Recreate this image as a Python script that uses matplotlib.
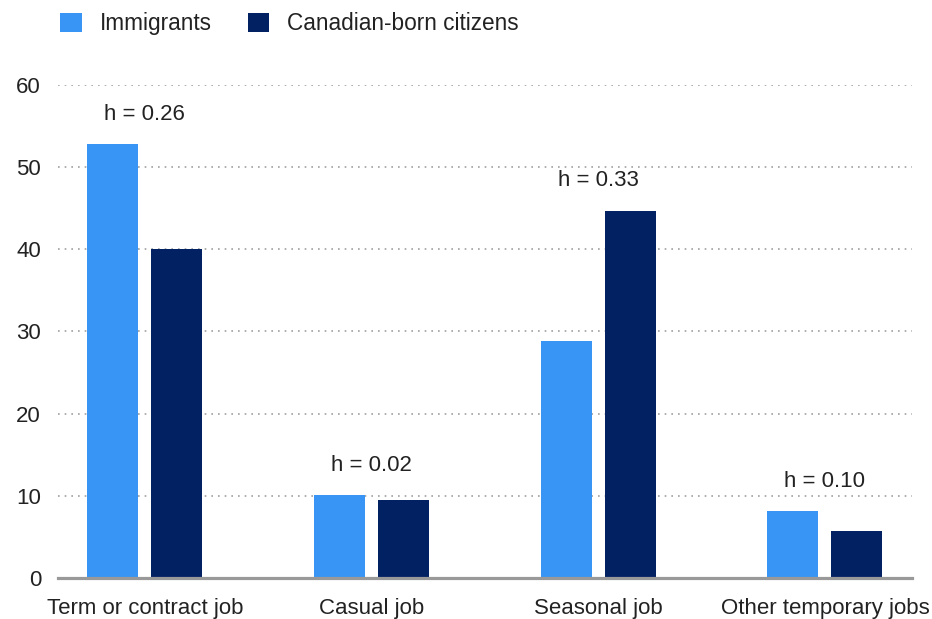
import matplotlib.pyplot as plt
import numpy as np
from matplotlib.patches import Patch

plt.rcParams['font.family'] = ['Liberation Sans', 'DejaVu Sans']

categories = ['Term or contract job', 'Casual job', 'Seasonal job', 'Other temporary jobs']
immigrants = [52.8, 10.1, 28.8, 8.15]
canadian_born = [40.0, 9.5, 44.7, 5.7]
h_labels = ['h = 0.26', 'h = 0.02', 'h = 0.33', 'h = 0.10']
series_names = ['Immigrants', 'Canadian-born citizens']
yticks = [0, 10, 20, 30, 40, 50, 60]

c_imm = '#3895F5'
c_can = '#012163'
txt = '#222222'

fig = plt.figure(figsize=(9.32, 6.19), dpi=100)
ax = fig.add_axes([0.062, 0.066, 0.9165, 0.797])

x = np.arange(len(categories))
w = 0.225
off = 0.141
ax.bar(x - off, immigrants, w, color=c_imm, zorder=3)
ax.bar(x + off, canadian_born, w, color=c_can, zorder=3)

for i, lab in enumerate(h_labels):
    top = max(immigrants[i], canadian_born[i])
    ax.annotate(lab, (x[i], top), xytext=(0, 21.5), textcoords='offset points',
                ha='center', va='center', fontsize=16, color=txt)

ax.set_xlim(-0.384, 3.384)
ax.set_ylim(0, 60)
ax.set_yticks(yticks)
ax.set_xticks(x)
ax.set_xticklabels(categories)
ax.tick_params(axis='both', length=0, labelsize=16, labelcolor=txt)
ax.tick_params(axis='x', pad=14)
ax.tick_params(axis='y', pad=12)

for s in ['top', 'right', 'left', 'bottom']:
    ax.spines[s].set_visible(False)
ax.yaxis.grid(True, linestyle=(0, (1, 3)), color='#a0a0a0', linewidth=1.2, zorder=0)
ax.axhline(0, color='#999999', linewidth=2.3, zorder=4, clip_on=False)

handles = [Patch(facecolor=c_imm), Patch(facecolor=c_can)]
fig.legend(handles, series_names, loc='center left', bbox_to_anchor=(0.043, 0.962),
           ncol=2, frameon=False, fontsize=16.3, handlelength=0.93, handleheight=0.93,
           handletextpad=0.8, columnspacing=1.6, labelcolor=txt)

fig.savefig('out.png', dpi=100)
